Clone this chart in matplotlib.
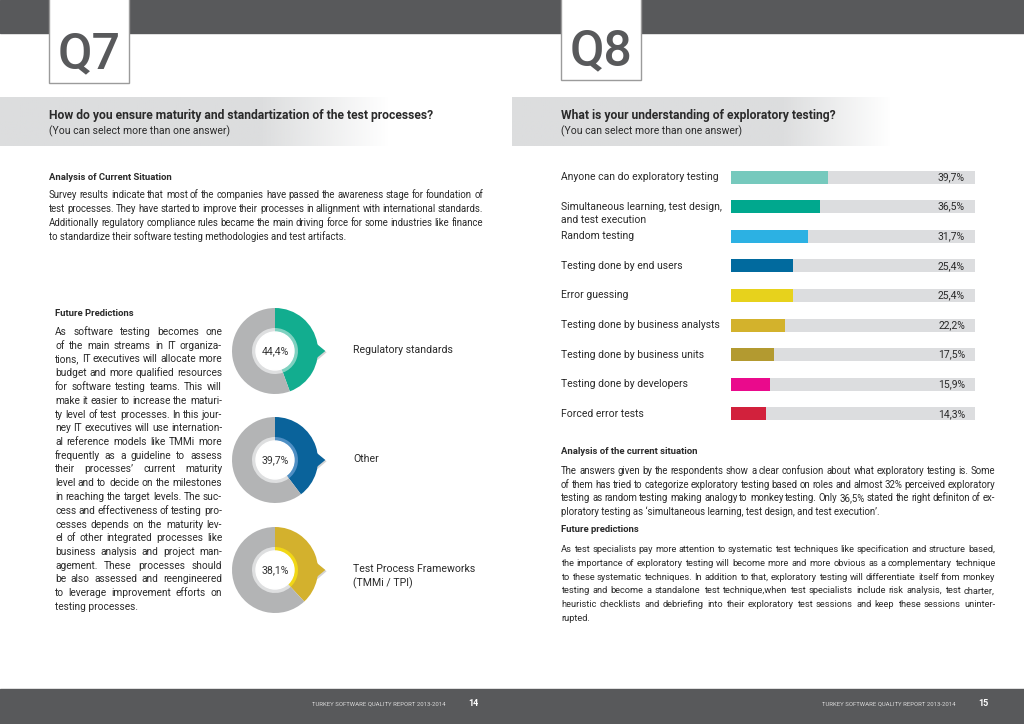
import numpy as np
import matplotlib
matplotlib.use("Agg")
import matplotlib.pyplot as plt
from matplotlib.patches import Rectangle, Polygon, Circle

plt.rcParams['font.family'] = ['Roboto', 'DejaVu Sans']

# ---- data ----
q7_labels = ["Regulatory standards", "Other", "Test Process Frameworks\n(TMMi / TPI)"]
q7_values = [44.4, 39.7, 38.1]
q7_colors = ["#12ad8f", "#0a639b", "#d3b12d"]
q7_light = ["#7fd1c0", "#4f8fc4", "#f1d716"]

q8_labels = ["Anyone can do exploratory testing",
             "Simultaneous learning, test design,\nand test execution",
             "Random testing",
             "Testing done by end users",
             "Error guessing",
             "Testing done by business analysts",
             "Testing done by business units",
             "Testing done by developers",
             "Forced error tests"]
q8_values = [39.7, 36.5, 31.7, 25.4, 25.4, 22.2, 17.5, 15.9, 14.3]
q8_colors = ["#76c9bd", "#00a88e", "#2cb1e3", "#016a9e", "#e7d21c",
             "#d3b22c", "#b39a30", "#ea0a8c", "#d2213c"]

DARK = "#58595b"
TXT = "#2a2a2a"

fig = plt.figure(figsize=(10.24, 7.24), dpi=100)
bg = fig.add_axes([0, 0, 1, 1])
bg.set_xlim(0, 1024)
bg.set_ylim(724, 0)
bg.axis('off')
renderer = fig.canvas.get_renderer()

# header / footer bands
bg.add_patch(Rectangle((0, 0), 1024, 33, color=DARK, zorder=1))
bg.add_patch(Rectangle((0, 689), 1024, 35, color=DARK, zorder=1))

# question boxes
for x0, bot, base, q in [(49, 83, 68, "Q7"), (561, 80, 65, "Q8")]:
    bg.add_patch(Rectangle((x0, -2), 80, bot + 2, facecolor='white',
                           edgecolor='#9b9b9b', lw=1, zorder=2))
    bg.text(x0 + 40, base, q, fontsize=36, fontweight='medium',
            color=DARK, ha='center', va='baseline', zorder=3)

# gradient question bands
def band(x0, solid, fade):
    n = 200
    xs = np.linspace(0, 1, n)
    edge = solid / fade
    a = np.clip((1 - xs) / (1 - edge), 0, 1)
    img = np.ones((1, n, 4))
    img[..., :3] = np.array([220, 221, 222]) / 255
    img[0, :, 3] = a
    bg.imshow(img, extent=(x0, x0 + fade, 146, 97), aspect='auto', zorder=1)

band(0, 260, 390)
band(512, 270, 380)

bg.text(49, 116, "How do you ensure maturity and standartization of the test processes?",
        fontsize=8.7, fontweight='bold', color=TXT, va='center', zorder=3)
bg.text(49, 131, "(You can select more than one answer)", fontsize=7.5, color=TXT, va='center', zorder=3)
bg.text(561, 116, "What is your understanding of exploratory testing?",
        fontsize=8.7, fontweight='bold', color=TXT, va='center', zorder=3)
bg.text(561, 131, "(You can select more than one answer)", fontsize=7.5, color=TXT, va='center', zorder=3)


def text_w(s, fs):
    t = bg.text(0, 0, s, fontsize=fs)
    w = t.get_window_extent(renderer).width
    t.remove()
    return w


def put_line(x0, x1, y, line, fs, just=True):
    # words sit on a common baseline, spread to fill the column
    base = y + 3
    words = line.split(' ')
    if not just or len(words) == 1:
        bg.text(x0, base, line, va='baseline', fontsize=fs, color=TXT)
        return
    ts = [bg.text(0, base, w, va='baseline', fontsize=fs, color=TXT) for w in words]
    widths = [t.get_window_extent(renderer).width for t in ts]
    gap = ((x1 - x0) - sum(widths)) / (len(words) - 1)
    x = x0
    for t, w in zip(ts, widths):
        t.set_x(x)
        x += w + gap


def paragraph(x0, x1, y0, dy, lines, fs):
    # shrink the size until every line fits with a minimal word gap
    while True:
        ok = all(sum(text_w(w, fs) for w in ln.split(' ')) + 1.7 * (len(ln.split(' ')) - 1)
                 <= (x1 - x0) for ln in lines)
        if ok:
            break
        fs -= 0.1
    for i, ln in enumerate(lines):
        put_line(x0, x1, y0 + i * dy, ln, fs, just=(i < len(lines) - 1))


# ---- left page text ----
bg.text(49, 177, "Analysis of Current Situation", fontsize=6.8, fontweight='bold', color=TXT, va='center')
paragraph(49, 483, 195, 14, [
    "Survey results indicate that most of the companies have passed the awareness stage for foundation of",
    "test processes. They have started to improve their processes in allignment with international standards.",
    "Additionally regulatory compliance rules became the main driving force for some industries like finance",
    "to standardize their software testing methodologies and test artifacts."], 7.4)

bg.text(55, 314, "Future Predictions", fontsize=6.8, fontweight='bold', color=TXT, va='center')
paragraph(55, 222, 332, 13.75, [
    "As software testing becomes one",
    "of the main streams in IT organiza-",
    "tions, IT executives will allocate more",
    "budget and more qualified resources",
    "for software testing teams. This will",
    "make it easier to increase the maturi-",
    "ty level of test processes. In this jour-",
    "ney IT executives will use internation-",
    "al reference models like TMMi more",
    "frequently as a guideline to assess",
    "their processes’ current maturity",
    "level and to decide on the milestones",
    "in reaching the target levels. The suc-",
    "cess and effectiveness of testing pro-",
    "cesses depends on the maturity lev-",
    "el of other integrated processes like",
    "business analysis and project man-",
    "agement. These processes should",
    "be also assessed and reengineered",
    "to leverage improvement efforts on",
    "testing processes."], 7.4)

# ---- right page text ----
bg.text(561, 451, "Analysis of the current situation", fontsize=6.8, fontweight='bold', color=TXT, va='center')
paragraph(561, 995, 471, 13.7, [
    "The answers given by the respondents show a clear confusion about what exploratory testing is. Some",
    "of them has tried to categorize exploratory testing based on roles and almost 32% perceived exploratory",
    "testing as random testing making analogy to monkey testing. Only 36,5% stated the right definiton of ex-",
    "ploratory testing as ‘simultaneous learning, test design, and test execution’."], 7.4)
bg.text(561, 530, "Future predictions", fontsize=6.8, fontweight='bold', color=TXT, va='center')
paragraph(561, 995, 549, 13.8, [
    "As test specialists pay more attention to systematic test techniques like specification and structure based,",
    "the importance of exploratory testing will become more and more obvious as a complementary technique",
    "to these systematic techniques. In addition to that, exploratory testing will differentiate itself from monkey",
    "testing and become a standalone test technique,when test specialists include risk analysis, test charter,",
    "heuristic checklists and debriefing into their exploratory test sessions and keep these sessions uninter-",
    "rupted."], 7.4)

# footer
for x, num in [(312, "14"), (822, "15")]:
    bg.text(x, 704, "TURKEY SOFTWARE QUALITY REPORT 2013-2014", fontsize=4.3,
            color='#d8d8d8', va='center', zorder=3)
    bg.text(x + 156, 704, num, fontsize=6.5, fontweight='bold', color='white', va='center', zorder=3)

# ---- Q7 donuts ----
R = 43.0
centers_y = [351, 460, 570]
half = 1.35 * R
for val, col, lt, lab, cy in zip(q7_values, q7_colors, q7_light, q7_labels, centers_y):
    ax = fig.add_axes([(275 - half) / 1024, (724 - cy - half) / 724, 2 * half / 1024, 2 * half / 724])
    ax.axis('off')
    # arrow with shadow
    ax.add_patch(Polygon([(0.93, 0.2), (1.2, -0.03), (0.93, -0.26)], closed=True,
                         color='#555555', alpha=0.25, lw=0))
    ax.add_patch(Polygon([(0.95, 0.18), (1.17, 0.0), (0.95, -0.18)], closed=True, color=col, lw=0))
    ax.pie([val, 100 - val], colors=[col, '#b3b4b5'], startangle=90, counterclock=False,
           radius=1.0, wedgeprops=dict(linewidth=0))
    ax.pie([val, 100 - val], colors=[lt, '#dedfe0'], startangle=90, counterclock=False,
           radius=23 / R, wedgeprops=dict(linewidth=0))
    ax.add_patch(Circle((0, 0), 19 / R, color='white', zorder=5))
    ax.text(0, 0, f"{val:.1f}%".replace('.', ','), ha='center', va='center',
            fontsize=7.6, color='#333333', zorder=6)
    ax.set_xlim(-1.35, 1.35)
    ax.set_ylim(-1.35, 1.35)
    for k, ln in enumerate(lab.split('\n')):
        bg.text(353, cy - 1 + k * 14, ln, fontsize=7.6, color=TXT, va='center')

# ---- Q8 bars ----
row = 29.6
top = 177 - row / 2
n = len(q8_values)
bx = fig.add_axes([731 / 1024, (724 - top - n * row) / 724, 244 / 1024, n * row / 724])
ypos = np.arange(n)
bx.barh(ypos, [100] * n, height=13 / row, color='#dcdddf', lw=0)
bx.barh(ypos, q8_values, height=13 / row, color=q8_colors, lw=0)
bx.set_xlim(0, 100)
bx.set_ylim(n - 0.5, -0.5)
bx.axis('off')
lab_x = (561 - 731) / 244 * 100
for i, (lab, v) in enumerate(zip(q8_labels, q8_values)):
    for k, ln in enumerate(lab.split('\n')):
        bx.text(lab_x, i + k * 13 / row, ln, fontsize=7.5, color=TXT, va='center', clip_on=False)
    bx.text(95.9, i, f"{v:.1f}%".replace('.', ','), fontsize=7.5, color=TXT, ha='right', va='center')

fig.savefig("out.png", dpi=100)
